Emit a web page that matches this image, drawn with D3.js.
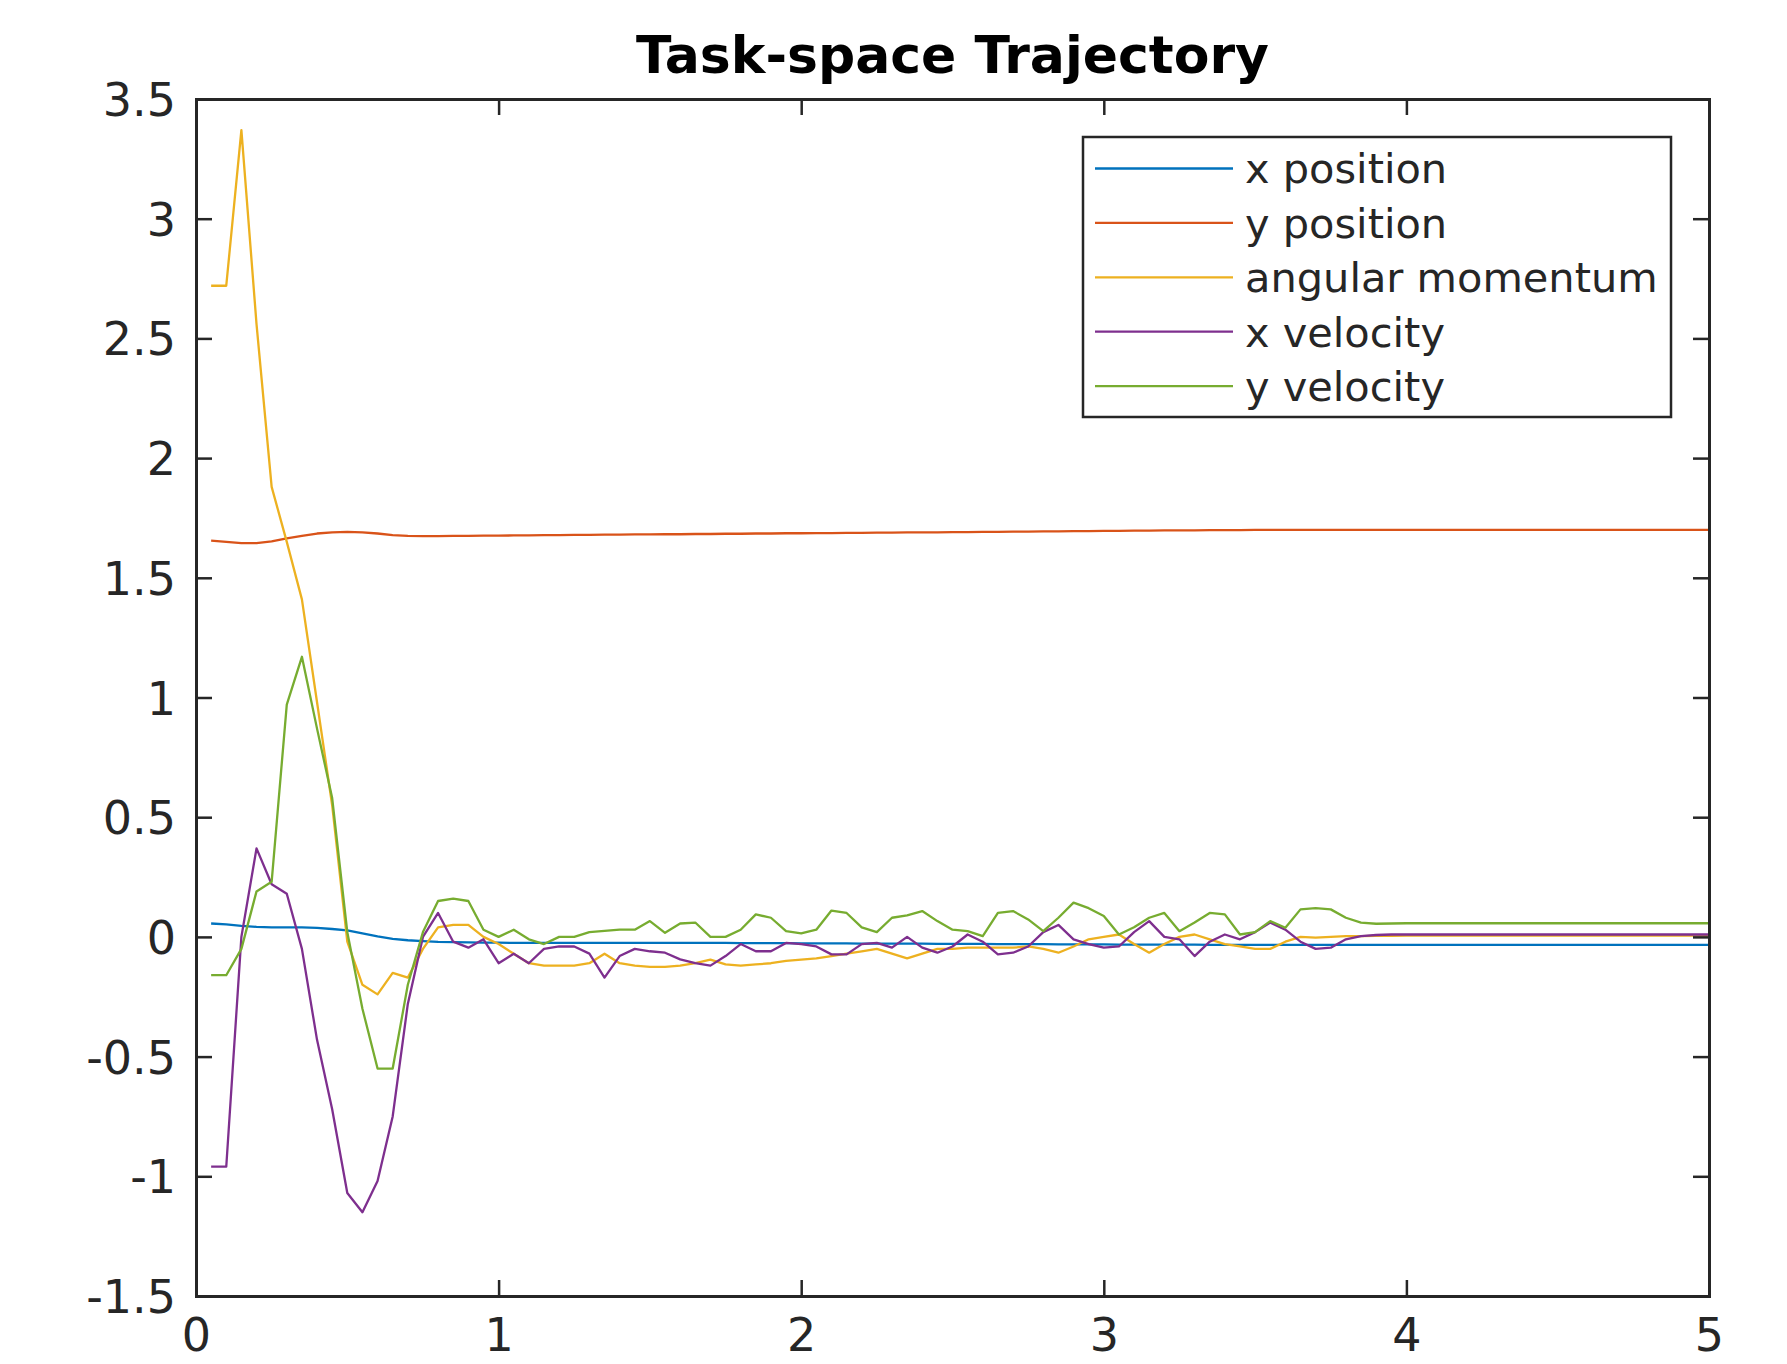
<!DOCTYPE html>
<html><head><meta charset="utf-8">
<script src="https://cdn.jsdelivr.net/npm/d3@7"></script>
<style>body{margin:0;background:#fff}svg{display:block}</style>
</head><body>
<script>
const times = [0.05,0.10,0.15,0.20,0.25,0.30,0.35,0.40,0.45,0.50,
0.55,0.60,0.65,0.70,0.75,0.80,0.85,0.90,0.95,1.00,
1.05,1.10,1.15,1.20,1.25,1.30,1.35,1.40,1.45,1.50,
1.55,1.60,1.65,1.70,1.75,1.80,1.85,1.90,1.95,2.00,
2.05,2.10,2.15,2.20,2.25,2.30,2.35,2.40,2.45,2.50,
2.55,2.60,2.65,2.70,2.75,2.80,2.85,2.90,2.95,3.00,
3.05,3.10,3.15,3.20,3.25,3.30,3.35,3.40,3.45,3.50,
3.55,3.60,3.65,3.70,3.75,3.80,3.85,3.90,3.95,4.00,
4.05,4.10,4.15,4.20,4.25,4.30,4.35,4.40,4.45,4.50,
4.55,4.60,4.65,4.70,4.75,4.80,4.85,4.90,4.95,5.00];

const xPosition = [0.056,0.052,0.046,0.042,0.040,0.040,0.040,0.038,0.033,0.027,
0.015,0.002,-0.008,-0.014,-0.018,-0.021,-0.022,-0.023,-0.024,-0.024,
-0.025,-0.025,-0.025,-0.025,-0.025,-0.025,-0.025,-0.025,-0.025,-0.025,
-0.025,-0.025,-0.025,-0.025,-0.025,-0.026,-0.026,-0.026,-0.026,-0.027,
-0.027,-0.027,-0.027,-0.028,-0.028,-0.028,-0.028,-0.028,-0.029,-0.029,
-0.029,-0.029,-0.030,-0.030,-0.030,-0.030,-0.031,-0.031,-0.031,-0.031,
-0.032,-0.032,-0.032,-0.032,-0.032,-0.032,-0.033,-0.033,-0.033,-0.033,
-0.033,-0.033,-0.033,-0.033,-0.033,-0.033,-0.033,-0.033,-0.033,-0.033,
-0.033,-0.033,-0.033,-0.033,-0.033,-0.033,-0.033,-0.033,-0.033,-0.033,
-0.033,-0.033,-0.033,-0.033,-0.033,-0.033,-0.033,-0.033,-0.033,-0.033];

const yPosition = [1.655,1.650,1.645,1.645,1.652,1.665,1.675,1.685,1.690,1.692,
1.690,1.685,1.678,1.675,1.674,1.674,1.675,1.675,1.676,1.676,
1.677,1.677,1.678,1.678,1.679,1.679,1.680,1.680,1.681,1.681,
1.682,1.682,1.683,1.683,1.684,1.684,1.685,1.685,1.686,1.686,
1.687,1.687,1.688,1.688,1.689,1.689,1.690,1.690,1.690,1.691,
1.691,1.692,1.692,1.693,1.693,1.694,1.694,1.695,1.695,1.696,
1.696,1.697,1.697,1.698,1.698,1.698,1.699,1.699,1.699,1.700,
1.700,1.700,1.700,1.700,1.700,1.700,1.700,1.700,1.700,1.700,
1.700,1.700,1.700,1.700,1.700,1.700,1.700,1.700,1.700,1.700,
1.700,1.700,1.700,1.700,1.700,1.700,1.700,1.700,1.700,1.700];

const angularMomentum = [2.72,2.72,3.37,2.56,1.88,1.65,1.41,0.98,0.55,-0.02,
-0.20,-0.24,-0.15,-0.17,-0.05,0.04,0.05,0.05,0.00,-0.03,
-0.07,-0.11,-0.12,-0.12,-0.12,-0.11,-0.07,-0.11,-0.12,-0.125,
-0.125,-0.12,-0.11,-0.095,-0.115,-0.12,-0.115,-0.11,-0.10,-0.095,
-0.09,-0.08,-0.07,-0.06,-0.05,-0.07,-0.09,-0.07,-0.05,-0.05,
-0.045,-0.045,-0.045,-0.045,-0.04,-0.05,-0.066,-0.04,-0.01,0.00,
0.01,-0.03,-0.066,-0.03,0.00,0.01,-0.01,-0.03,-0.04,-0.05,
-0.05,-0.02,0.00,-0.003,0.00,0.003,0.003,0.004,0.004,0.005,
0.005,0.005,0.005,0.005,0.005,0.005,0.005,0.005,0.005,0.005,
0.005,0.005,0.005,0.005,0.005,0.005,0.005,0.005,0.005,0.005];

const xVelocity = [-0.96,-0.96,0.00,0.37,0.22,0.18,-0.05,-0.43,-0.72,-1.07,
-1.15,-1.02,-0.75,-0.28,0.00,0.10,-0.02,-0.045,-0.01,-0.11,
-0.07,-0.11,-0.05,-0.04,-0.04,-0.07,-0.17,-0.08,-0.05,-0.06,
-0.066,-0.094,-0.11,-0.12,-0.08,-0.03,-0.06,-0.06,-0.025,-0.03,
-0.04,-0.073,-0.073,-0.03,-0.025,-0.045,0.00,-0.045,-0.066,-0.04,
0.01,-0.02,-0.073,-0.066,-0.04,0.02,0.05,-0.01,-0.03,-0.045,
-0.04,0.02,0.066,0.00,-0.01,-0.08,-0.02,0.01,-0.01,0.02,
0.06,0.03,-0.02,-0.05,-0.045,-0.01,0.003,0.008,0.01,0.01,
0.01,0.01,0.01,0.01,0.01,0.01,0.01,0.01,0.01,0.01,
0.01,0.01,0.01,0.01,0.01,0.01,0.01,0.01,0.01,0.01];

const yVelocity = [-0.16,-0.16,-0.05,0.19,0.23,0.97,1.17,0.87,0.58,0.02,
-0.30,-0.55,-0.55,-0.20,0.02,0.15,0.16,0.15,0.03,0.00,
0.03,-0.01,-0.03,0.00,0.00,0.02,0.025,0.03,0.03,0.066,
0.017,0.056,0.06,0.00,0.00,0.03,0.094,0.08,0.024,0.015,
0.03,0.11,0.10,0.04,0.02,0.08,0.09,0.108,0.066,0.03,
0.024,0.003,0.10,0.108,0.073,0.024,0.08,0.143,0.12,0.087,
0.01,0.04,0.08,0.10,0.024,0.06,0.10,0.094,0.01,0.02,
0.066,0.038,0.115,0.12,0.115,0.08,0.06,0.055,0.056,0.057,
0.057,0.057,0.057,0.057,0.057,0.057,0.057,0.057,0.057,0.057,
0.057,0.057,0.057,0.057,0.057,0.057,0.057,0.057,0.057,0.057];

const seriesNames = ["x position","y position","angular momentum","x velocity","y velocity"];
const seriesColors = ["#0072BD","#D95319","#EDB120","#7E2F8E","#77AC30"];
const xTicks = [0,1,2,3,4,5];
const xTickLabels = ["0","1","2","3","4","5"];
const yTicks = [-1.5,-1,-0.5,0,0.5,1,1.5,2,2.5,3,3.5];
const yTickLabels = ["-1.5","-1","-0.5","0","0.5","1","1.5","2","2.5","3","3.5"];
const chartTitle = "Task-space Trajectory";

const seriesValues = [xPosition, yPosition, angularMomentum, xVelocity, yVelocity];

const W = 1787, H = 1364;
const m = {left:196, right:1709, top:99, bottom:1296};
const axisColor = "#262626";
const font = "'DejaVu Sans', Verdana, sans-serif";

const svg = d3.select("body").append("svg").attr("width", W).attr("height", H);
svg.append("rect").attr("width", W).attr("height", H).attr("fill", "#fff");

const x = d3.scaleLinear().domain([0,5]).range([m.left, m.right]);
const y = d3.scaleLinear().domain([-1.5,3.5]).range([m.bottom, m.top]);

svg.append("defs").append("clipPath").attr("id","clip")
  .append("rect").attr("x", m.left).attr("y", m.top)
  .attr("width", m.right - m.left).attr("height", m.bottom - m.top);

const line = d3.line().x((d,i) => x(times[i])).y(d => y(d));
const plot = svg.append("g").attr("clip-path","url(#clip)");
seriesValues.forEach((vals, s) => {
  plot.append("path").datum(vals)
    .attr("d", line)
    .attr("fill","none")
    .attr("stroke", seriesColors[s])
    .attr("stroke-width", 2.3)
    .attr("stroke-linejoin","round");
});

function styleAxis(g) {
  g.select(".domain").attr("stroke", axisColor).attr("stroke-width", 3).attr("stroke-linecap","square");
  g.selectAll(".tick line").attr("stroke", axisColor).attr("stroke-width", 2.5);
  g.selectAll(".tick text").attr("fill", axisColor).style("font-family", font).style("font-size","46px");
}

const tickLen = -16;
svg.append("g").attr("transform", `translate(0,${m.bottom})`)
  .call(d3.axisBottom(x).tickValues(xTicks).tickFormat((d,i) => xTickLabels[i])
    .tickSizeInner(tickLen).tickSizeOuter(0).tickPadding(22))
  .call(styleAxis);
svg.append("g").attr("transform", `translate(0,${m.top})`)
  .call(d3.axisTop(x).tickValues(xTicks).tickFormat(() => "")
    .tickSizeInner(tickLen).tickSizeOuter(0))
  .call(styleAxis);
const gl = svg.append("g").attr("transform", `translate(${m.left},0)`)
  .call(d3.axisLeft(y).tickValues(yTicks).tickFormat((d,i) => yTickLabels[i])
    .tickSizeInner(tickLen).tickSizeOuter(0).tickPadding(20))
  .call(styleAxis);
gl.selectAll(".tick text").attr("dy","0.36em");
svg.append("g").attr("transform", `translate(${m.right},0)`)
  .call(d3.axisRight(y).tickValues(yTicks).tickFormat(() => "")
    .tickSizeInner(tickLen).tickSizeOuter(0))
  .call(styleAxis);

// Title
svg.append("text").attr("x", (m.left + m.right) / 2).attr("y", 73)
  .attr("text-anchor","middle").attr("fill","#000")
  .style("font-family", font).style("font-weight","bold").style("font-size","52px")
  .text(chartTitle);

// Legend
const lg = svg.append("g");
lg.append("rect").attr("x",1083).attr("y",137).attr("width",588).attr("height",280)
  .attr("fill","#fff").attr("stroke", axisColor).attr("stroke-width",2.5);
seriesNames.forEach((name, i) => {
  const ly = 168.5 + i * 54.4;
  lg.append("line").attr("x1",1095).attr("x2",1233).attr("y1",ly).attr("y2",ly)
    .attr("stroke", seriesColors[i]).attr("stroke-width",2.3);
  lg.append("text").attr("x",1245).attr("y",ly).attr("dy","0.36em")
    .attr("fill", axisColor).style("font-family", font).style("font-size","41.5px")
    .text(name);
});
</script>
</body></html>
